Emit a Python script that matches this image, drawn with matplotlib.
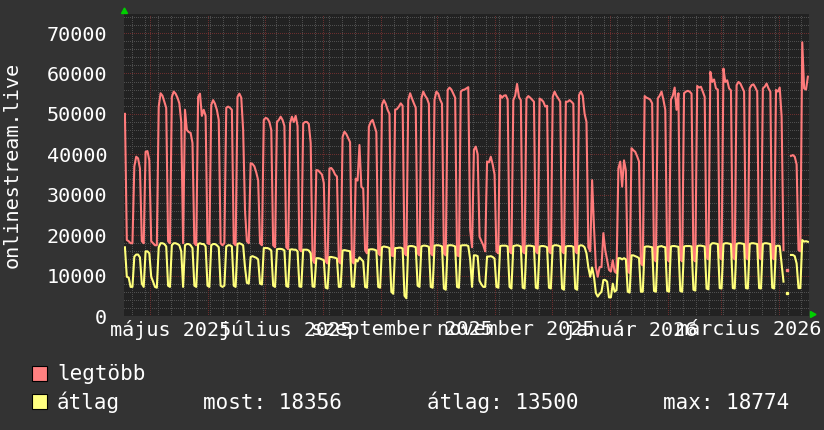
import numpy as np
import pandas as pd
import matplotlib
matplotlib.use("Agg")
import matplotlib.pyplot as plt
from matplotlib.patches import Rectangle, Polygon

nan = np.nan

# napi értékek, 2025-04-17-től, hetente (hétfőtől) tördelve
start = "2025-04-17"

legtobb = [
    50000, 18800, 18500, 18000,
    18000, 37000, 39400, 39000, 36500, 18500, 18000,
    40600, 40800, 38500, 18500, 18000, 17500, 17500,
    51800, 55100, 54500, 53000, 51500, 18500, 18000,
    54200, 55500, 55000, 54000, 52600, 48000, 18000,
    51000, 46000, 45500, 45300, 42800, 18000, 17500,
    54200, 55000, 49500, 51000, 49500, 18000, 17800,
    52200, 53400, 52500, 51000, 48500, 18000, 17500,
    18000, 51500, 51800, 51500, 51000, 18000, 17500,
    54200, 55000, 54000, 46000, 26000, 18500, 18000,
    37800, 37600, 37000, 35500, 33600, 18000, 17500,
    48500, 49000, 48800, 48000, 46000, 17500, 17000,
    48000, 48500, 49300, 48500, 47000, 17000, 16500,
    47600, 49300, 48000, 49500, 47000, 16500, 16000,
    47600, 48000, 48000, 47500, 42800, 14000, 13100,
    36100, 36000, 35500, 35000, 32900, 13500, 13000,
    36500, 36600, 36000, 35000, 34500, 13500, 13000,
    44300, 45600, 45000, 44000, 43000, 13500, 13000,
    34000, 33500, 42300, 32000, 31500, 16300, 15500,
    46800, 48000, 48500, 47000, 45500, 15500, 15000,
    52200, 53400, 52500, 51000, 50000, 15000, 14800,
    51000, 51200, 51800, 52600, 52000, 15500, 15000,
    53400, 55100, 53800, 52600, 51500, 15500, 15000,
    53800, 55500, 54500, 53800, 52500, 15500, 15000,
    53500, 55500, 55000, 53500, 52500, 15500, 15000,
    55900, 56500, 56000, 55000, 54000, 15000, 14800,
    55500, 55900, 56000, 56300, 56600, 21300, 17000,
    41100, 41900, 40000, 19600, 18500, 17500, 16000,
    38200, 38000, 39400, 37500, 35000, 16000, 15500,
    54600, 54000, 54500, 54600, 53500, 16000, 15500,
    53400, 54500, 57400, 54200, 53400, 16000, 15500,
    53800, 54400, 54000, 53500, 53000, 16000, 15500,
    53800, 53500, 53000, 51800, 52000, 16000, 15500,
    54200, 55500, 54500, 53800, 53000, 16000, 15500,
    53000, 53000, 53400, 53000, 52500, 16000, 15500,
    54600, 55500, 54500, 50000, 48000, 17000, 16000,
    33600, 22000, 12100, 9700, 12100, 12100, 20500,
    16300, 13800, 11400, 11000, 13800, 11000, 10600,
    36500, 38200, 32000, 38500, 36000, 11000, 10600,
    41500, 41000, 40600, 39500, 38200, 13000, 12500,
    54400, 54000, 53800, 53500, 52600, 14000, 13500,
    53800, 54500, 55500, 53500, 51000, 14000, 13500,
    53500, 54500, 56500, 51000, 55100, 14000, 13500,
    55100, 55500, 55700, 55500, 55000, 14000, 13500,
    56900, 56500, 56700, 55500, 54200, 14500, 14000,
    60400, 57900, 58500, 56300, 56000, 14500, 14000,
    61200, 57900, 58300, 56300, 55800, 14500, 14000,
    57100, 57900, 57500, 56500, 55500, 14500, 14000,
    56300, 57100, 57300, 56500, 55500, 14500, 14000,
    56300, 56700, 57500, 56300, 55500, 14500, 14000,
    55900, 55500, 56500, 49300, 16300, nan, 11400,
    nan, 39600, 39800, 39400, 37500, 16300, 16000,
    67700, 56300, 56000, 59200,
]

atlag = [
    17000, 9700, 9500, 7200,
    7200, 14700, 15200, 15200, 14500, 8000, 7200,
    16000, 16000, 15500, 9700, 8500, 7200, 7000,
    17000, 18000, 18000, 17800, 17200, 7500, 7200,
    17500, 18000, 18000, 17800, 17500, 16000, 7200,
    17500, 17800, 17800, 17500, 16800, 7500, 7200,
    17800, 18000, 17800, 17800, 17200, 7500, 7200,
    17500, 17800, 17800, 17500, 17000, 7500, 7200,
    7500, 17200, 17500, 17500, 17200, 7500, 7200,
    17800, 18000, 17800, 17500, 12000, 8200, 8000,
    14600, 14800, 14600, 14400, 14000, 8000, 7800,
    16800, 16800, 16800, 16600, 16200, 7500, 7200,
    16500, 16600, 16600, 16500, 16200, 7400, 7200,
    16400, 16500, 16400, 16400, 16000, 7300, 7200,
    16400, 16400, 16400, 16200, 15500, 7300, 7200,
    14300, 14300, 14200, 14000, 13800, 7000, 6800,
    14600, 14600, 14500, 14400, 14200, 7200, 7200,
    16200, 16300, 16200, 16100, 16000, 7300, 7200,
    14000, 13500, 14500, 14000, 13500, 7200, 7000,
    16400, 16500, 16500, 16400, 16200, 7200, 7000,
    17000, 17200, 17100, 17000, 16800, 6000, 5500,
    16800, 16800, 16900, 16900, 16700, 5000, 4400,
    17200, 17300, 17300, 17200, 17000, 7500, 7200,
    17200, 17400, 17400, 17300, 17100, 7200, 7000,
    17400, 17500, 17500, 17400, 17200, 6800, 6500,
    17400, 17500, 17500, 17400, 17200, 7200, 7000,
    17400, 17500, 17500, 17500, 17300, 14000, 7200,
    15000, 15000, 14800, 8700, 7800, 7200, 7200,
    14700, 14700, 14800, 14600, 14200, 7200, 7000,
    17300, 17400, 17400, 17400, 17200, 7200, 6800,
    17300, 17400, 17500, 17400, 17200, 7000, 6800,
    17300, 17400, 17400, 17300, 17200, 7000, 6800,
    17200, 17300, 17300, 17200, 17000, 7000, 6800,
    17300, 17500, 17500, 17400, 17200, 6800, 6500,
    17200, 17300, 17300, 17300, 17100, 6800, 6500,
    17300, 17500, 17400, 17000, 15500, 12000, 9700,
    12000, 9700, 5700, 4800, 5500, 6000, 8900,
    8900, 8500, 4600, 4600, 8000, 6000, 6400,
    14300, 14300, 14000, 14300, 14000, 6000, 5800,
    15000, 15000, 14800, 14600, 14300, 6000, 6000,
    17100, 17200, 17200, 17100, 17000, 6200, 6000,
    17100, 17200, 17300, 17100, 17000, 6200, 6000,
    17200, 17300, 17300, 17200, 17100, 6200, 6000,
    17200, 17300, 17300, 17300, 17200, 6500, 6300,
    17300, 17400, 17400, 17300, 17200, 6800, 6600,
    17500, 18000, 18000, 17900, 17800, 6900, 6800,
    17800, 18000, 18000, 17900, 17800, 6900, 6800,
    17800, 18000, 18000, 17900, 17800, 6900, 6800,
    17800, 18000, 18000, 17900, 17800, 6900, 6800,
    17800, 18000, 18000, 17900, 17800, 7000, 6800,
    17300, 17400, 17300, 13000, 8500, nan, 5800,
    nan, 15100, 15100, 14800, 13000, 6900, 6900,
    18774, 18400, 18500, 18356,
]

x_labels = ["május 2025", "július 2025", "szeptember 2025",
            "november 2025", "január 2026", "március 2026"]
x_label_dates = ["2025-05-12", "2025-07-12", "2025-09-12",
                 "2025-11-12", "2026-01-12", "2026-03-16"]
y_ticks = [0, 10000, 20000, 30000, 40000, 50000, 60000, 70000]

BG = "#333333"
PLOT_BG = "#222222"
GRID = "#4e4e4e"
MGRID = "#6a2e2e"
RED = "#ff7b7b"
YELLOW = "#ffff7b"
TEXT = "#ffffff"
GREEN = "#00d000"

plt.rcParams["font.family"] = ["DejaVu Sans Mono"]

W, H = 824, 430
fig = plt.figure(figsize=(W / 100, H / 100), dpi=100, facecolor=BG)
ax = fig.add_axes([124 / W, 1 - 316 / H, 685 / W, 302 / H], facecolor=PLOT_BG)

t0 = pd.Timestamp(start)
t1 = t0 + pd.Timedelta(days=365.1)
days = pd.date_range(start, periods=len(legtobb), freq="D") + pd.Timedelta(hours=12)

# rács: hetente (hétfő) szürke, havonta piros; vízszintesen 2000 / 10000
grid_kw = dict(lw=0.72, ls=(0, (1, 2)), zorder=1, antialiased=False)
for d in pd.date_range("2025-04-21", t1, freq="7D"):
    ax.axvline(d, color=GRID, **grid_kw)
for v in range(2000, 75000, 2000):
    if v % 10000:
        ax.axhline(v, color=GRID, **grid_kw)
for d in pd.date_range("2025-05-01", t1, freq="MS"):
    ax.axvline(d, color=MGRID, **grid_kw)
for v in y_ticks[1:]:
    ax.axhline(v, color=MGRID, **grid_kw)
ax.axhline(0, color="#555555", lw=0.72, ls=(0, (1, 2)), zorder=2,
           antialiased=False)

ax.plot(days, legtobb, color=RED, lw=1.5, zorder=3)
ax.plot(days, atlag, color=YELLOW, lw=1.5, zorder=4)

# magányos mérési pontok (két oldalt hiányzó adat)
for vals, col in ((legtobb, RED), (atlag, YELLOW)):
    a = np.array(vals, float)
    prev = np.r_[nan, a[:-1]]
    nxt = np.r_[a[1:], nan]
    lone = ~np.isnan(a) & np.isnan(prev) & np.isnan(nxt)
    ax.plot(days[lone], a[lone], ls="none", marker="s", ms=1.6,
            color=col, zorder=5)

ax.set_xlim(t0, t1)
ax.set_ylim(0, 74700)
for s in ax.spines.values():
    s.set_visible(False)

ax.set_yticks(y_ticks)
ax.set_yticklabels([str(v) for v in y_ticks])
ax.set_xticks(pd.to_datetime(x_label_dates))
ax.set_xticklabels(x_labels)
ax.tick_params(axis="both", length=0, colors=TEXT, labelsize=14.5)
ax.tick_params(axis="y", pad=12)
ax.tick_params(axis="x", pad=3)

fig.text(12 / W, 1 - 165 / H, "onlinestream.live", rotation=90,
         ha="center", va="center", color=TEXT, fontsize=14.5)

# tengelyvégi nyilak
fig.add_artist(Polygon([[121.5, H - 13.5], [127.5, H - 13.5], [124.5, H - 8]],
                       closed=True, color=GREEN, transform=None))
fig.add_artist(Polygon([[810.5, H - 311.5], [810.5, H - 317.5], [816, H - 314.5]],
                       closed=True, color=GREEN, transform=None))

# jelmagyarázat
fig.add_artist(Rectangle((31.5, H - 381), 15.5, 15, facecolor="#ff8080",
                         edgecolor="#000000", lw=0.8, transform=None))
fig.add_artist(Rectangle((31.5, H - 409), 15.5, 15, facecolor="#ffff80",
                         edgecolor="#000000", lw=0.8, transform=None))
leg_kw = dict(color=TEXT, fontsize=15, va="baseline", ha="left")
fig.text(57 / W, 1 - 380.5 / H, "legtöbb", **leg_kw)
fig.text(57 / W, 1 - 409 / H, "átlag", **leg_kw)
fig.text(203 / W, 1 - 409 / H, "most: 18356", **leg_kw)
fig.text(427 / W, 1 - 409 / H, "átlag: 13500", **leg_kw)
fig.text(663 / W, 1 - 409 / H, "max: 18774", **leg_kw)

fig.savefig("out.png", dpi=100, facecolor=BG)
